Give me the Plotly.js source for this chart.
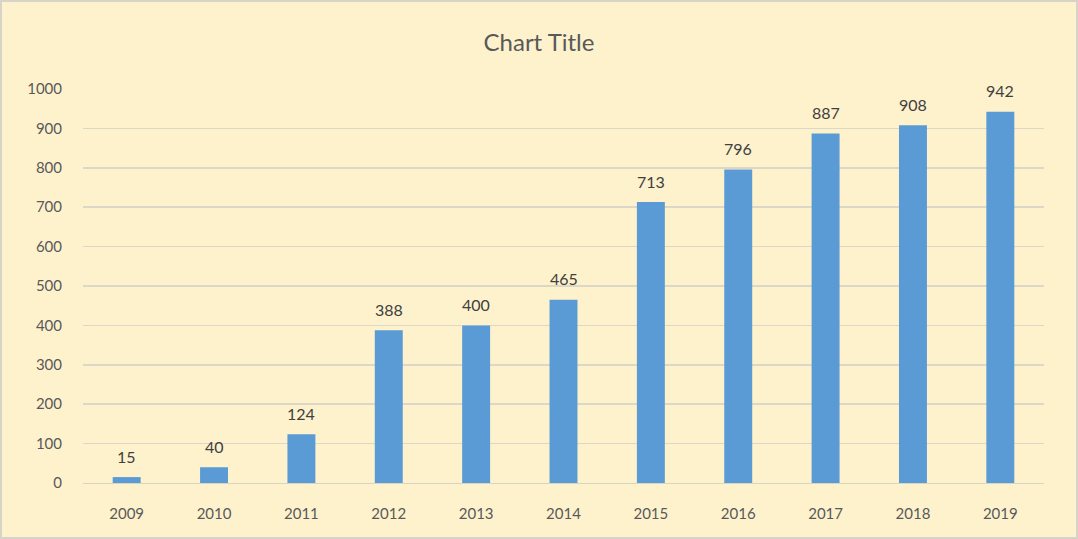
<!DOCTYPE html>
<html><head><meta charset="utf-8">
<script src="https://cdn.plot.ly/plotly-3.0.1.min.js"></script>
<style>html,body{margin:0;padding:0;background:#FEF2CD;}
#chart{width:1078px;height:539px;box-sizing:border-box;border:2px solid #D6D3C8;}</style>
</head><body><div id="chart"></div>
<script>
const years = ['2009','2010','2011','2012','2013','2014','2015','2016','2017','2018','2019'];
const counts = [15,40,124,388,400,465,713,796,887,908,942];
const yTicks = [0,100,200,300,400,500,600,700,800,900,1000];

const FONT = 'Lato, Open Sans, sans-serif';
// annotations placed at category index positions of each bar
const annotations = years.map((yr, i) => ({
  x: i, y: counts[i], xref: 'x', yref: 'y', text: String(counts[i]), showarrow: false,
  yanchor: 'middle', yshift: 21,
  font: {family: FONT, size: 16, color: '#404040'}
}));

Plotly.newPlot('chart', [{
  type:'bar', x:years, y:counts,
  marker:{color:'#5B9BD5'},
  hoverinfo:'none'
}], {
  width:1074, height:535,
  paper_bgcolor:'#FEF2CD', plot_bgcolor:'#FEF2CD',
  margin:{l:81, r:32, t:87, b:54},
  bargap:0.68,
  showlegend:false,
  annotations: annotations,
  title:{text:'Chart Title', x:0.5, xanchor:'center', y:0.925, yanchor:'middle',
    font:{family:FONT, size:24, color:'#595959'}},
  font:{family:FONT, color:'#595959'},
  xaxis:{type:'category', range:[-0.5, years.length - 0.5], showgrid:false, showline:true, linecolor:'#D9D5C6', linewidth:1,
    ticks:'', tickfont:{size:15, color:'#595959'}, ticklabelstandoff:17},
  yaxis:{range:[0,1000], tickvals:yTicks, showgrid:true, gridcolor:'#DCD8C8', gridwidth:1.5,
    zeroline:false, showline:false, ticks:'', ticklen:0, tickfont:{size:15, color:'#595959'}, ticklabelstandoff:20}
}, {displayModeBar:false, staticPlot:true});
</script></body></html>
